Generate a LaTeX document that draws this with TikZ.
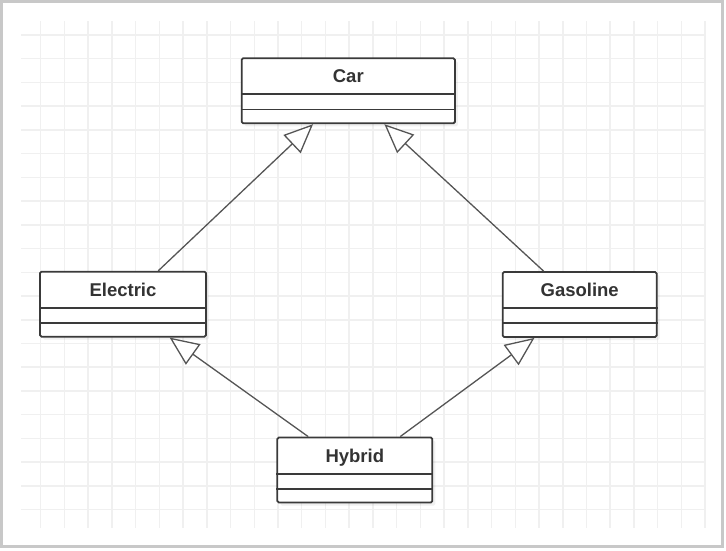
\documentclass[tikz,border=0pt]{standalone}
\usepackage{fontspec}
\setmainfont{Liberation Sans}
\usetikzlibrary{arrows.meta,shadows,calc}
\definecolor{gridc}{HTML}{F0F0F0}
\definecolor{framec}{HTML}{C8C8C8}
\definecolor{boxc}{HTML}{3A3A3A}
\definecolor{linec}{HTML}{555555}
\begin{document}
\begin{tikzpicture}[x=1pt,y=-1pt,
  classbox/.style={draw=boxc, line width=1.8pt, rounded corners=1.5pt, fill=white,
    minimum height=65pt, inner sep=0pt,
    drop shadow={opacity=0.12, shadow xshift=3pt, shadow yshift=-3pt}},
  classname/.style={font=\bfseries\fontsize{18.5}{20}\selectfont, text=black!80, inner sep=0pt, anchor=base},
  divider/.style={draw=boxc, line width=1.8pt},
  gridline/.style={draw=gridc, line width=1.5pt},
  gen/.style={draw=linec, line width=1.3pt,
    -{Triangle[length=29pt,width=25pt,fill=white,line join=miter]}}]
\useasboundingbox (0,0) rectangle (726,551);
% grid
\begin{scope}
  \clip (21,21) rectangle (706,528);
  \foreach \i in {0,...,28} \draw[gridline] ({40.7+23.73*\i},21) -- ({40.7+23.73*\i},528);
  \foreach \j in {0,...,20} \draw[gridline] (21,{35+23.73*\j}) -- (706,{35+23.73*\j});
\end{scope}
% frame
\draw[framec, line width=3pt] (1.5,1.5) rectangle (722.5,546.5);
% classes
\node[classbox, minimum width=213.3pt] (car) at (348.3,90.8) {};
\node[classbox, minimum width=166pt] (electric) at (123,304.2) {};
\node[classbox, minimum width=154pt] (gasoline) at (579.7,304.5) {};
\node[classbox, minimum width=155pt] (hybrid) at (354.8,470) {};
\foreach \c in {car,electric,gasoline,hybrid}{
  \draw[divider] ($(\c.north west)+(0,37)$) -- ($(\c.north east)+(0,37)$);
  \draw[divider] ($(\c.north west)+(0,52)$) -- ($(\c.north east)+(0,52)$);
}
\node[classname] (carname) at ($(car.north)+(0,25.5)$) {Car};
\node[classname] (electricname) at ($(electric.north)+(0,25.5)$) {Electric};
\node[classname] (gasolinename) at ($(gasoline.north)+(0,25.5)$) {Gasoline};
\node[classname] (hybridname) at ($(hybrid.north)+(0,25.5)$) {Hybrid};
% generalizations
\draw[gen] (electric) -- (car);
\draw[gen] (gasoline) -- (car);
\draw[gen] (hybrid) -- (electric);
\draw[gen] (hybrid) -- (gasoline);
\end{tikzpicture}
\end{document}
